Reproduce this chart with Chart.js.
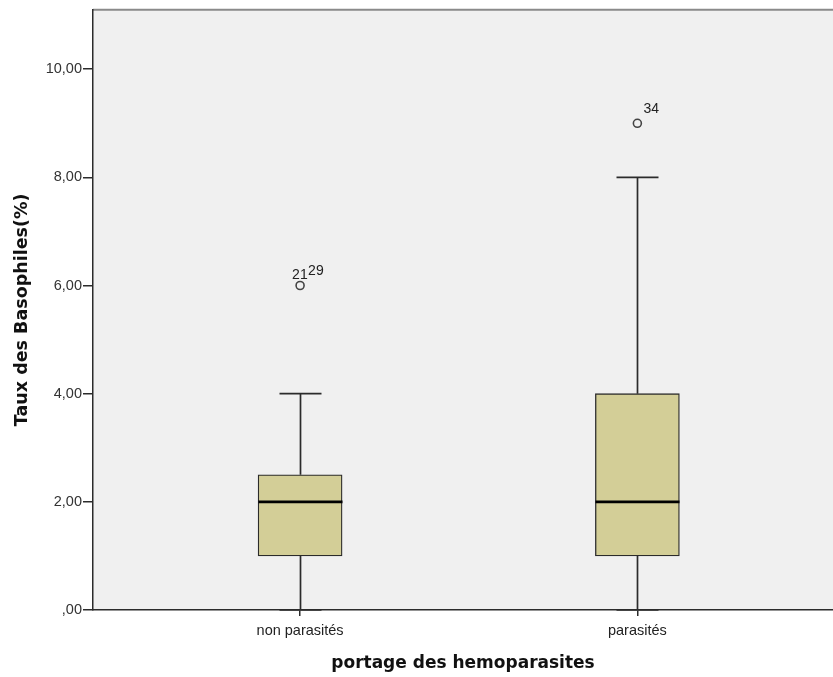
<!DOCTYPE html>
<html>
<head>
<meta charset="utf-8">
<script src="https://cdn.jsdelivr.net/npm/chart.js@4"></script>
<style>
  html, body { margin: 0; padding: 0; background: #fff; }
  #wrap { width: 833px; height: 677px; }
</style>
</head>
<body>
<div id="wrap"><canvas id="c" width="833" height="677"></canvas></div>
<script>
const categories = ['non parasités', 'parasités'];
const whiskerLow = [0, 0];
const q1 = [1, 1];
const median = [2, 2];
const q3 = [2.5, 4];
const whiskerHigh = [4, 8];
const outlierValues = [[6], [9]];
const outlierLabels = [['21', '29'], ['34']];
const yTickValues = [0, 2, 4, 6, 8, 10];
const positions = [1, 2];

const boxData = positions.map((p, i) => ({ x: p, y: [q1[i], q3[i]] }));
const outlierData = [];
const outlierText = [];
positions.forEach((p, i) => {
  outlierValues[i].forEach((v, j) => {
    outlierData.push({ x: p, y: v });
    outlierText.push(outlierLabels[i]);
  });
});

const fmt = v => {
  const s = v.toFixed(2).replace('.', ',');
  return v === 0 ? ',00' : s;
};

const tickFont = { family: 'Arial, "Liberation Sans", sans-serif', size: 14.5 };

const bgPlugin = {
  id: 'bg',
  beforeDraw(chart) {
    const { ctx, chartArea: a } = chart;
    ctx.save();
    ctx.fillStyle = '#F0F0F0';
    ctx.fillRect(a.left, a.top, a.right - a.left, a.bottom - a.top);
    ctx.strokeStyle = '#8a8a8a';
    ctx.lineWidth = 2;
    ctx.beginPath();
    ctx.moveTo(a.left, a.top);
    ctx.lineTo(a.right, a.top);
    ctx.stroke();
    ctx.restore();
  }
};

const boxPlugin = {
  id: 'boxparts',
  afterDatasetsDraw(chart) {
    const { ctx } = chart;
    const xs = chart.scales.x, ys = chart.scales.y;
    ctx.save();
    positions.forEach((p, i) => {
      const cx = Math.round(xs.getPixelForValue(p)) + 0.5;
      const half = 42;
      const cap = 21;
      ctx.strokeStyle = '#2b2b2b';
      ctx.lineWidth = 1.7;
      ctx.beginPath();
      ctx.moveTo(cx, ys.getPixelForValue(q3[i]));
      ctx.lineTo(cx, ys.getPixelForValue(whiskerHigh[i]));
      ctx.moveTo(cx, ys.getPixelForValue(q1[i]));
      ctx.lineTo(cx, ys.getPixelForValue(whiskerLow[i]));
      const yh = ys.getPixelForValue(whiskerHigh[i]);
      ctx.moveTo(cx - cap, yh);
      ctx.lineTo(cx + cap, yh);
      const yl = ys.getPixelForValue(whiskerLow[i]);
      ctx.moveTo(cx - cap, yl);
      ctx.lineTo(cx + cap, yl);
      ctx.stroke();
      ctx.strokeStyle = '#000';
      ctx.lineWidth = 2.6;
      ctx.beginPath();
      const ym = ys.getPixelForValue(median[i]);
      ctx.moveTo(cx - half, ym);
      ctx.lineTo(cx + half, ym);
      ctx.stroke();
    });
    ctx.fillStyle = '#222';
    ctx.font = '14px Arial, "Liberation Sans", sans-serif';
    ctx.textBaseline = 'alphabetic';
    ctx.textAlign = 'left';
    outlierData.forEach((d, k) => {
      const px = xs.getPixelForValue(d.x);
      const py = ys.getPixelForValue(d.y);
      const labs = outlierText[k];
      if (labs.length === 1) {
        ctx.fillText(labs[0], px + 6, py - 10);
      } else {
        ctx.fillText(labs[0], px - 8, py - 7);
        ctx.fillText(labs[1], px + 8, py - 11);
      }
    });
    ctx.restore();
  }
};

new Chart(document.getElementById('c'), {
  type: 'bar',
  data: {
    datasets: [
      {
        type: 'bar',
        data: boxData,
        backgroundColor: '#D3CE97',
        borderColor: '#2b2b2b',
        borderWidth: 1.3,
        borderSkipped: false,
        barThickness: 84,
        order: 2
      },
      {
        type: 'scatter',
        data: outlierData,
        pointRadius: 4,
        pointBorderWidth: 1.6,
        pointBorderColor: '#444',
        pointBackgroundColor: 'rgba(0,0,0,0)',
        order: 1
      }
    ]
  },
  options: {
    responsive: false,
    animation: false,
    layout: { autoPadding: false, padding: { top: 9, right: 0, left: 0, bottom: 0 } },
    plugins: { legend: { display: false }, tooltip: { enabled: false } },
    scales: {
      x: {
        type: 'linear',
        offset: false,
        min: 0.386,
        max: 2.58,
        afterBuildTicks(s) { s.ticks = positions.map(v => ({ value: v })); },
        afterFit(s) { s.height = 67; s.paddingRight = 0; s.paddingLeft = 0; },
        ticks: {
          callback: (v) => categories[positions.indexOf(v)] || '',
          color: '#222',
          font: tickFont,
          padding: 6,
          maxRotation: 0,
          autoSkip: false
        },
        grid: { display: true, offset: false, drawOnChartArea: false, drawTicks: true, tickLength: 6, color: '#2b2b2b', lineWidth: 1.5 },
        border: { display: true, color: '#2b2b2b', width: 1.5 },
        title: {
          display: true,
          text: 'portage des hemoparasites',
          color: '#111',
          font: { family: '"DejaVu Sans", sans-serif', size: 17, weight: 'bold' },
          padding: { top: 10, bottom: 3 }
        }
      },
      y: {
        min: 0,
        max: 11.1,
        afterBuildTicks(s) { s.ticks = yTickValues.map(v => ({ value: v })); },
        afterFit(s) { s.width = 93; },
        ticks: {
          callback: (v) => fmt(v),
          color: '#333',
          font: tickFont,
          padding: 1
        },
        grid: { display: true, drawOnChartArea: false, drawTicks: true, tickLength: 10, color: '#2b2b2b', lineWidth: 1.5 },
        border: { display: true, color: '#2b2b2b', width: 1.5 },
        title: {
          display: true,
          text: 'Taux des Basophiles(%)',
          color: '#111',
          font: { family: '"DejaVu Sans", sans-serif', size: 17.5, weight: 'bold' },
          padding: { top: 12, bottom: 4 }
        }
      }
    }
  },
  plugins: [bgPlugin, boxPlugin]
});
</script>
</body>
</html>
